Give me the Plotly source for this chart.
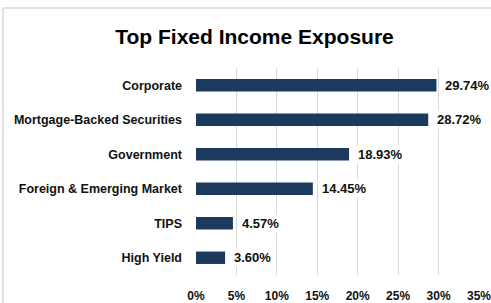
import plotly.graph_objects as go

categories = ["Corporate", "Mortgage-Backed Securities", "Government",
              "Foreign & Emerging Market", "TIPS", "High Yield"]
values = [29.74, 28.72, 18.93, 14.45, 4.57, 3.60]
tick_vals = [0, 5, 10, 15, 20, 25, 30, 35]
tick_text = ["0%", "5%", "10%", "15%", "20%", "25%", "30%", "35%"]

FONT = "Liberation Sans, Arial"

fig = go.Figure(go.Bar(
    y=categories, x=values, orientation="h",
    marker=dict(color="#1B3A5E", line=dict(width=0)),
    width=0.36,
    hoverinfo="x+y",
))

# value labels (white background, like the reference)
for c, v in zip(categories, values):
    fig.add_annotation(x=v, y=c, xref="x", yref="y", text=f"{v:.2f}%",
                       showarrow=False, xanchor="left", yanchor="middle",
                       xshift=7, bgcolor="white", borderpad=1,
                       font=dict(family=FONT, size=13, color="#111111", weight="bold"))

fig.update_layout(
    width=491, height=303,
    margin=dict(l=196, r=12, t=68, b=28, autoexpand=False),
    paper_bgcolor="white", plot_bgcolor="white",
    title=dict(text="Top Fixed Income Exposure", x=254.5 / 491, xref="container",
               xanchor="center", y=1 - 37 / 303, yanchor="middle",
               font=dict(family=FONT, size=21, color="#000000", weight="bold")),
    showlegend=False,
)
fig.update_xaxes(range=[0, 35], tickvals=tick_vals, ticktext=tick_text,
                 showgrid=True, gridcolor="#D9D9D9", gridwidth=1,
                 zeroline=False, showline=False, ticks="", automargin=False,
                 ticklabelstandoff=12, ticklabeloverflow="allow",
                 tickfont=dict(family=FONT, size=12, color="#111111", weight="bold"))
fig.update_yaxes(autorange="reversed", showgrid=False, showline=False, ticks="",
                 automargin=False, ticklabelstandoff=13,
                 tickfont=dict(family=FONT, size=12.5, color="#111111", weight="bold"))

# chart frame (left and top edges visible)
fig.add_shape(type="line", xref="paper", yref="paper",
              x0=(3 - 196) / 283, x1=(3 - 196) / 283,
              y0=1 + 60 / 207, y1=-0.3,
              line=dict(color="#D9D9D9", width=1.5))
fig.add_shape(type="line", xref="paper", yref="paper",
              x0=(3 - 196) / 283, x1=1.2,
              y0=1 + 60 / 207, y1=1 + 60 / 207,
              line=dict(color="#D9D9D9", width=1.5))

fig.write_html("out.html", config={"displayModeBar": False},
               post_script="document.body.style.margin='0';document.body.style.overflow='hidden';")
